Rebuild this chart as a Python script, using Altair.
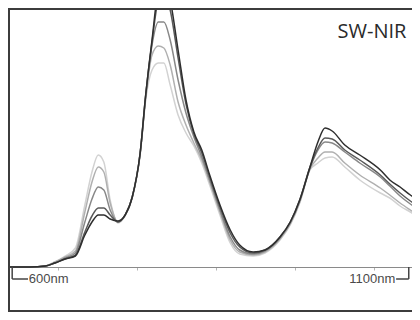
import altair as alt
import pandas as pd

# wavelength samples (nm)
wavelength = [637, 665, 684, 696, 709, 722, 734, 743, 751, 758, 766, 776, 785, 794, 804, 811,
              819, 827, 834, 842, 852, 862, 872, 882, 892, 905, 918, 930, 947, 962, 981, 994,
              1006, 1019, 1029, 1038, 1047, 1063, 1082, 1108, 1120, 1133, 1146, 1168]

# absorbance spectra, darkest (s1) to lightest (s5)
s1 = [0.00, 0.00, 0.01, 0.04, 0.08, 0.11, 0.32, 0.45, 0.52, 0.52, 0.48, 0.46, 0.52, 0.70, 1.14, 1.72,
      2.27, 2.77, 2.87, 2.67, 2.17, 1.67, 1.35, 1.17, 0.92, 0.62, 0.37, 0.22, 0.15, 0.17, 0.30, 0.45,
      0.67, 1.00, 1.25, 1.39, 1.36, 1.22, 1.12, 0.97, 0.87, 0.80, 0.72, 0.63]
s2 = [0.00, 0.00, 0.01, 0.04, 0.08, 0.12, 0.35, 0.51, 0.59, 0.59, 0.52, 0.45, 0.52, 0.70, 1.14, 1.72,
      2.25, 2.67, 2.75, 2.57, 2.09, 1.63, 1.33, 1.14, 0.90, 0.60, 0.34, 0.20, 0.14, 0.17, 0.30, 0.45,
      0.67, 1.00, 1.19, 1.29, 1.28, 1.17, 1.07, 0.92, 0.83, 0.74, 0.66, 0.56]
s3 = [0.00, 0.00, 0.01, 0.04, 0.09, 0.14, 0.45, 0.68, 0.80, 0.77, 0.57, 0.45, 0.52, 0.70, 1.14, 1.71,
      2.22, 2.45, 2.45, 2.27, 1.87, 1.54, 1.30, 1.10, 0.87, 0.57, 0.30, 0.17, 0.13, 0.16, 0.29, 0.44,
      0.66, 0.99, 1.17, 1.25, 1.24, 1.15, 1.04, 0.90, 0.81, 0.71, 0.63, 0.53]
s4 = [0.00, 0.00, 0.01, 0.05, 0.10, 0.16, 0.55, 0.85, 1.00, 0.95, 0.64, 0.45, 0.52, 0.70, 1.13, 1.69,
      2.12, 2.21, 2.19, 2.02, 1.65, 1.42, 1.24, 1.07, 0.85, 0.55, 0.27, 0.15, 0.12, 0.15, 0.28, 0.43,
      0.65, 0.98, 1.09, 1.15, 1.15, 1.04, 0.92, 0.79, 0.72, 0.64, 0.57, 0.46]
s5 = [0.00, 0.00, 0.01, 0.05, 0.11, 0.19, 0.62, 0.95, 1.12, 1.05, 0.67, 0.44, 0.51, 0.69, 1.12, 1.67,
      1.97, 2.04, 2.04, 1.82, 1.52, 1.34, 1.21, 1.04, 0.82, 0.52, 0.24, 0.13, 0.11, 0.14, 0.27, 0.42,
      0.64, 0.97, 1.04, 1.09, 1.10, 1.00, 0.87, 0.74, 0.69, 0.61, 0.55, 0.44]

series_names = ["s5", "s4", "s3", "s2", "s1"]
series_colors = ["#d2d2d2", "#b0b0b0", "#888888", "#5a5a5a", "#2e2e2e"]
series_values = {"s1": s1, "s2": s2, "s3": s3, "s4": s4, "s5": s5}

tick_values = [700, 800, 900, 1000, 1100]
range_labels = ["600nm", "1100nm"]
corner_label = "SW-NIR"

rows = []
for name in series_names:
    for w, v in zip(wavelength, series_values[name]):
        rows.append({"nm": w, "abs": v, "series": name})
df = pd.DataFrame(rows)

W, H = 404, 304
x_scale = alt.Scale(domain=[636.7, 1148.1], nice=False, zero=False)
y_scale = alt.Scale(domain=[-0.45, 2.59], nice=False, zero=False)

lines = alt.Chart(df).mark_line(strokeWidth=1.5, interpolate="monotone", clip=True).encode(
    x=alt.X("nm:Q", scale=x_scale,
            axis=alt.Axis(values=tick_values, labels=False, title=None, grid=False,
                          offset=-45, domainColor="#8a8a8a", domainWidth=1,
                          tickColor="#b5b5b5", tickSize=3)),
    y=alt.Y("abs:Q", scale=y_scale, axis=None),
    color=alt.Color("series:N", scale=alt.Scale(domain=series_names, range=series_colors), legend=None),
    order=alt.Order("nm:Q"),
)

# frame (left, top, bottom; right side runs off the picture)
frame_color = "#3c3c3c"
frame_left = alt.Chart().mark_rule(color=frame_color, strokeWidth=2).encode(
    x=alt.value(1), y=alt.value(0), y2=alt.value(H))
frame_top = alt.Chart().mark_rule(color=frame_color, strokeWidth=2).encode(
    x=alt.value(0), x2=alt.value(W), y=alt.value(1))
frame_bottom = alt.Chart().mark_rule(color=frame_color, strokeWidth=2).encode(
    x=alt.value(0), x2=alt.value(W), y=alt.value(H - 1))

br_color = "#444444"
left_v = alt.Chart().mark_rule(color=br_color, strokeWidth=1.5).encode(
    x=alt.datum(642, scale=x_scale), y=alt.datum(0.0, scale=y_scale), y2=alt.datum(-0.12))
left_h = alt.Chart().mark_rule(color=br_color, strokeWidth=1.5).encode(
    x=alt.datum(642, scale=x_scale), x2=alt.datum(662), y=alt.datum(-0.12, scale=y_scale))
right_v = alt.Chart().mark_rule(color=br_color, strokeWidth=1.5).encode(
    x=alt.datum(1144, scale=x_scale), y=alt.datum(0.0, scale=y_scale), y2=alt.datum(-0.12))
right_h = alt.Chart().mark_rule(color=br_color, strokeWidth=1.5).encode(
    x=alt.datum(1128, scale=x_scale), x2=alt.datum(1144), y=alt.datum(-0.12, scale=y_scale))

left_text = alt.Chart().mark_text(align="left", baseline="middle", font="Liberation Sans",
                                  fontSize=13, color="#4a4a4a").encode(
    x=alt.datum(663, scale=x_scale), y=alt.datum(-0.12, scale=y_scale), text=alt.value(range_labels[0]))
right_text = alt.Chart().mark_text(align="right", baseline="middle", font="Liberation Sans",
                                   fontSize=13, color="#4a4a4a").encode(
    x=alt.datum(1127, scale=x_scale), y=alt.datum(-0.12, scale=y_scale), text=alt.value(range_labels[1]))
corner_text = alt.Chart().mark_text(align="right", baseline="alphabetic", font="Open Sans",
                                    fontSize=20, color="#2a2a2a").encode(
    x=alt.datum(1141, scale=x_scale), y=alt.datum(2.29, scale=y_scale), text=alt.value(corner_label))

chart = alt.layer(lines, frame_left, frame_top, frame_bottom, left_v, left_h, right_v, right_h,
                  left_text, right_text, corner_text).properties(
    width=W, height=H, padding=0,
    autosize=alt.AutoSizeParams(type="none"),
).configure_view(stroke=None)

chart.save("out.html", embed_options={"renderer": "svg", "actions": False})
